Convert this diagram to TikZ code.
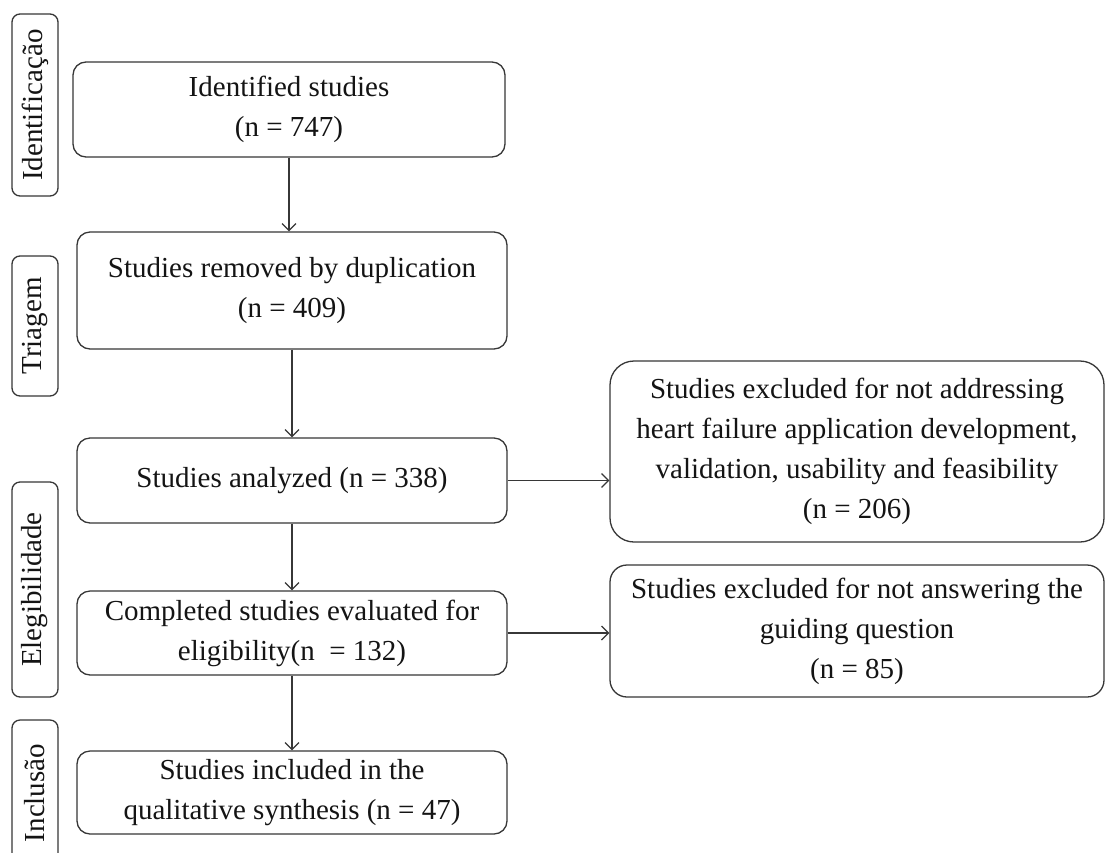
\documentclass[tikz,border=0pt]{standalone}
\usepackage{fontspec}
\setmainfont{Liberation Serif}
\usetikzlibrary{arrows.meta}
\definecolor{ln}{RGB}{55,55,55}
\definecolor{tx}{RGB}{20,20,20}
\begin{document}
\begin{tikzpicture}[x=1pt,y=-1pt,
  box/.style={draw=ln, line width=1.3pt, rounded corners=13pt, inner sep=0pt, align=center,
    text=tx, font=\fontsize{29}{40}\selectfont},
  side/.style={box, rounded corners=8pt, rotate=90, minimum height=46pt},
  arr/.style={draw=ln, line width=1.2pt, -{Straight Barb[length=7pt,width=14pt,line width=1.2pt]}}]
\clip (0,0) rectangle (1105,852);
\fill[white] (0,0) rectangle (1105,852);
% side labels
\node[side, minimum width=182pt] (s1) at (35,105) {Identificação};
\node[side, minimum width=140pt] (s2) at (35,326) {Triagem};
\node[side, minimum width=215pt] (s3) at (35,589.5) {Elegibilidade};
\node[side, minimum width=146pt] (s4) at (35,793) {Inclusão};
% main column
\node[box, minimum width=432pt, minimum height=95pt] (id) at (289,109.5) {Identified studies\\(n = 747)};
\node[box, minimum width=430pt, minimum height=117pt] (rem) at (292,290.5) {Studies removed by duplication\\(n = 409)};
\node[box, minimum width=430pt, minimum height=85pt] (ana) at (292,480.5) {Studies analyzed (n = 338)};
\node[box, minimum width=430pt, minimum height=84pt] (comp) at (292,633) {Completed studies evaluated for\\eligibility(n \ = 132)};
\node[box, minimum width=430pt, minimum height=83pt] (inc) at (292,792.5) {Studies included in the\\qualitative synthesis (n = 47)};
% exclusions
\node[box, rounded corners=24pt, minimum width=494pt, minimum height=181pt] (ex1) at (857,451.5)
  {Studies excluded for not addressing\\heart failure application development,\\validation, usability and feasibility\\(n = 206)};
\node[box, rounded corners=17pt, minimum width=494pt, minimum height=132pt] (ex2) at (857,631)
  {Studies excluded for not answering the\\guiding question\\(n = 85)};
% connectors
\draw[arr] (id.south) -- (id.south |- rem.north);
\draw[arr] (rem.south) -- (rem.south |- ana.north);
\draw[arr] (ana.south) -- (ana.south |- comp.north);
\draw[arr] (comp.south) -- (comp.south |- inc.north);
\draw[arr] (ana.east) -- (ana.east -| ex1.west);
\draw[arr] (comp.east) -- (comp.east -| ex2.west);
\end{tikzpicture}
\end{document}
